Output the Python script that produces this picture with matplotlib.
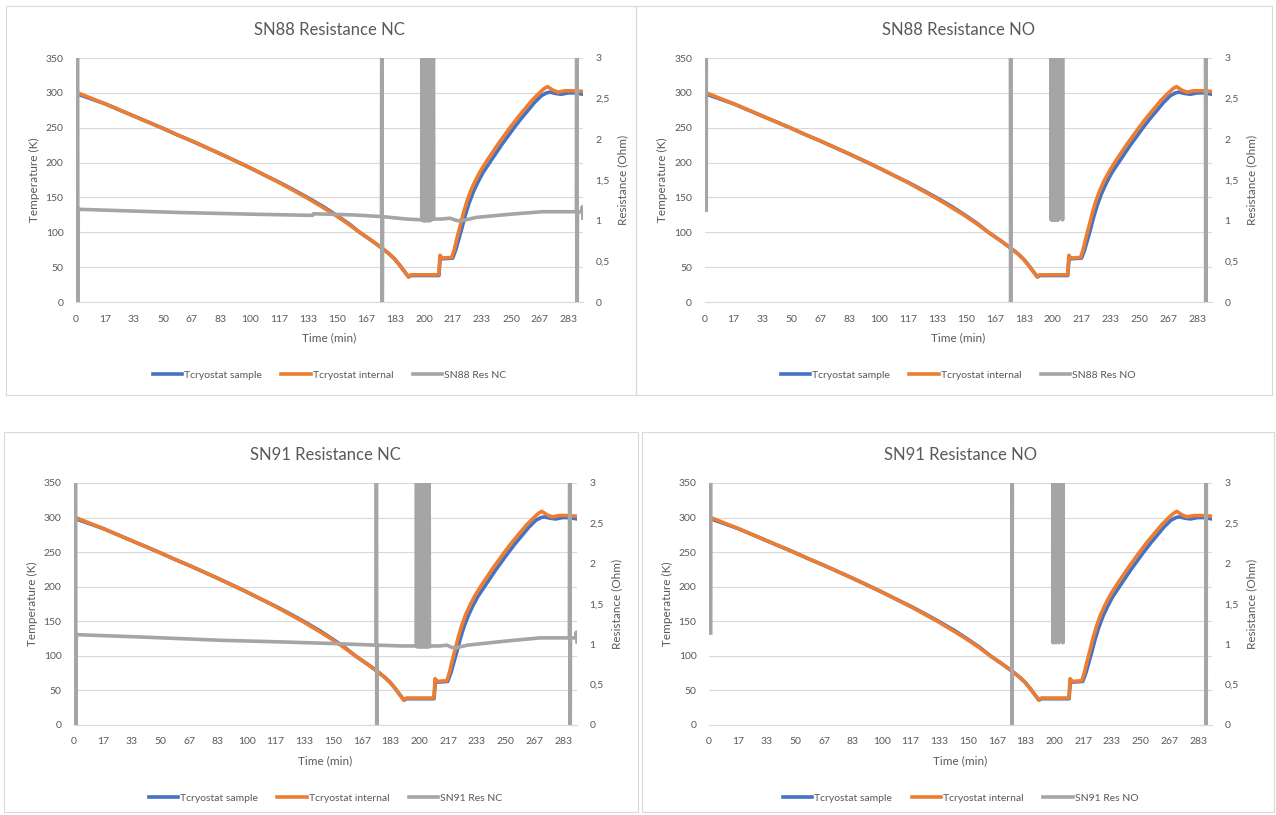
"""
Four cryostat runs: temperature (left axis) and contact resistance (right axis)
for SN88 / SN91, NC and NO contacts. Writes out.png.
"""
import matplotlib
matplotlib.use("Agg")
import matplotlib.pyplot as plt
from matplotlib.lines import Line2D
from matplotlib.patches import Rectangle

W, H = 1276, 815
BLUE, ORANGE, GRAY = "#4472C4", "#ED7D31", "#A5A5A5"
TXT, GRID = "#595959", "#D9D9D9"
LW = 2.6

plt.rcParams.update({"font.family": ["Lato", "DejaVu Sans"], "text.color": TXT,
                     "xtick.color": TXT, "ytick.color": TXT})

# ---- temperatures (same run for all four charts) ----
time_internal = [0, 8, 17, 25, 33, 42, 50, 58, 67, 75, 83, 92, 100, 108, 117, 125, 133, 142,
                 150, 157, 163, 170, 176, 180, 183, 186, 189, 191, 192.5, 200, 208.5, 209.2,
                 210.2, 216, 217.5, 219, 220.7, 222.5, 224.5, 226.8, 229.5, 232.5, 236, 239.5,
                 243, 246.5, 250, 254, 258, 262, 266, 269, 271, 274, 277, 281, 285, 291.4]
temp_internal = [301, 293, 284, 275.5, 267, 257.5, 249, 240, 230.5, 221.5, 212.5, 202, 192.5,
                 182.5, 171, 160, 149, 135.5, 123, 111, 100, 88, 77, 69, 62, 53, 43, 36, 39,
                 39, 39, 67, 63, 64, 76, 92, 108, 126, 143, 159, 174, 188, 202, 215,
                 228, 240, 252, 265, 277, 289, 299, 306, 309, 304, 301, 303, 303, 302]
time_sample = [0, 8, 17, 25, 33, 42, 50, 58, 67, 75, 83, 92, 100, 108, 117, 125, 133, 142,
               150, 157, 163, 170, 176, 180, 183, 186, 189, 191.2, 192.7, 200, 208.6, 209.4,
               210.4, 216.5, 218.3, 220, 221.8, 223.7, 225.8, 228.2, 231, 234, 237.5, 241,
               244.5, 248, 251.5, 255.5, 259.5, 263.5, 267.5, 270.5, 272.5, 276, 279, 283, 287,
               291.4]
temp_sample = [299, 292, 284, 275.5, 267, 257.5, 249, 240, 230.5, 221.5, 212.5, 202, 192.5,
               182.5, 171.5, 161, 150, 137, 124, 112, 100, 88, 77, 69, 62, 53, 43, 36, 38,
               38, 38, 66, 62, 63, 75, 90, 106, 124, 141, 157, 172, 186, 199, 212,
               225, 237, 249, 262, 274, 286, 296, 300, 301, 299, 298, 300, 300, 298]

# ---- resistances (values beyond 0..3 Ohm run off the chart) ----
time_sn88_nc = [0.9, 1.1, 1.3, 30, 60, 100, 136, 136.5, 160, 175.6, 175.8, 176.0, 176.2, 190,
                198.7, 199.0, 199.3, 199.6, 199.9, 200.2, 200.5, 200.8, 201.1, 201.4, 201.7,
                202.0, 202.3, 202.6, 202.9, 203.2, 203.5, 205.2, 205.4, 205.6,
                210, 215, 219, 222, 230, 250, 268, 287.6, 287.8, 288.0, 288.2,
                290.8, 291.0, 291.4]
res_sn88_nc = [5, -1, 1.14, 1.12, 1.10, 1.08, 1.065, 1.085, 1.07, 1.05, 5, -1, 1.05, 1.02,
               1.01, 5, 1.0, 5, 1.0, 5, 1.0, 5, 1.0, 5, 1.0,
               5, 1.0, 5, 1.0, 5, 1.0, 1.02, 5, 1.02,
               1.02, 1.03, 1.0, 1.0, 1.04, 1.08, 1.11, 1.11, 5, -1, 1.11,
               1.11, 1.17, 1.03]

time_sn88_no = [1.0, 1.1, 175.6, 175.8, 176.0, 198.9, 199.1, 199.4, 199.7, 200.0, 200.3,
                200.6, 200.9, 201.2, 201.5, 201.8, 202.1, 202.4, 202.7, 203.0, 203.3,
                205.4, 205.6, 205.8, 287.6, 287.8, 288.0, 291.4]
res_sn88_no = [1.13, 5, 5, -1, 5, 5, 1.01, 5, 1.01, 5, 1.01,
               5, 1.01, 5, 1.01, 5, 1.01, 5, 1.01, 5, 1.01,
               5, 1.01, 5, 5, -1, 5, 5]

time_sn91_nc = [0.9, 1.1, 1.3, 40, 85, 120, 150, 175.0, 175.2, 175.4, 175.6, 190, 198.2,
                198.4, 198.7, 199.0, 199.3, 199.6, 199.9, 200.2, 200.5, 200.8, 201.1, 201.4,
                201.7, 202.0, 202.3, 202.6, 202.9, 203.2, 203.5, 203.8, 204.1, 204.4, 204.7,
                205.0, 205.3, 205.6, 205.9, 206.2,
                212, 216, 219, 222, 228, 250, 270, 287.0, 287.2, 287.4, 287.6,
                290.8, 291.0, 291.4]
res_sn91_nc = [5, -1, 1.12, 1.09, 1.05, 1.03, 1.01, 0.99, 5, -1, 0.99, 0.98, 0.98,
               5, 0.97, 5, 0.97, 5, 0.97, 5, 0.97, 5, 0.97, 5,
               0.97, 5, 0.97, 5, 0.97, 5, 0.97, 5, 0.97, 5, 0.97,
               5, 0.97, 5, 0.97, 0.98,
               0.98, 0.99, 0.96, 0.96, 0.99, 1.04, 1.08, 1.08, 5, -1, 1.08,
               1.08, 1.15, 1.03]

time_sn91_no = [1.0, 1.1, 175.4, 175.6, 175.8, 199.1, 199.3, 199.5, 200.8, 201.0, 201.2,
                202.6, 202.8, 203.0, 204.9, 205.1, 205.3, 287.8, 288.0, 288.2, 291.4]
res_sn91_no = [1.14, 5, 5, -1, 5, 5, 1.02, 5, 5, 1.02, 5,
               5, 1.02, 5, 5, 1.02, 5, 5, -1, 5, 5]

xtick_pos = [0, 16.67, 33.33, 50, 66.67, 83.33, 100, 116.67, 133.33, 150, 166.67, 183.33,
             200, 216.67, 233.33, 250, 266.67, 283.33]
xtick_labels = ["0", "17", "33", "50", "67", "83", "100", "117", "133", "150", "167", "183",
                "200", "217", "233", "250", "267", "283"]
temp_ticks = [0, 50, 100, 150, 200, 250, 300, 350]
res_ticks = [0, 0.5, 1, 1.5, 2, 2.5, 3]
res_tick_labels = ["0", "0,5", "1", "1,5", "2", "2,5", "3"]

# (title, series name, times, values, border box px, plot box px)
PANELS = [
    ("SN88 Resistance NC", "SN88 Res NC", time_sn88_nc, res_sn88_nc, (6, 6, 636, 395), (76, 58, 583, 302)),
    ("SN88 Resistance NO", "SN88 Res NO", time_sn88_no, res_sn88_no, (636, 6, 1272, 395), (704.5, 58, 1212, 302)),
    ("SN91 Resistance NC", "SN91 Res NC", time_sn91_nc, res_sn91_nc, (4, 432, 638, 812), (74, 483, 577, 725)),
    ("SN91 Resistance NO", "SN91 Res NO", time_sn91_no, res_sn91_no, (642, 432, 1274, 812), (709, 483, 1212, 725)),
]


def fx(x):
    return x / W


def fy(y):
    return 1 - y / H


def panel(fig, title, name, t_res, r_res, border, box):
    bx0, by0, bx1, by1 = border
    fig.patches.append(Rectangle((fx(bx0), fy(by1)), (bx1 - bx0) / W, (by1 - by0) / H,
                                 transform=fig.transFigure, fill=False, ec=GRID, lw=0.8))
    x0, y0, x1, y1 = box
    ax = fig.add_axes([fx(x0), fy(y1), (x1 - x0) / W, (y1 - y0) / H])
    ax.plot(time_sample, temp_sample, color=BLUE, lw=LW, solid_joinstyle="round")
    ax.plot(time_internal, temp_internal, color=ORANGE, lw=LW, solid_joinstyle="round")
    ax.set_xlim(0, 291.4); ax.set_ylim(0, 350)
    ax.set_yticks(temp_ticks)
    ax.set_xticks(xtick_pos); ax.set_xticklabels(xtick_labels)
    ax.tick_params(length=0, labelsize=7.5)
    ax.tick_params(axis="y", pad=9); ax.tick_params(axis="x", pad=9)
    ax.yaxis.grid(True, color=GRID, lw=0.8)
    for s in ("top", "right", "left"):
        ax.spines[s].set_visible(False)
    ax.spines["bottom"].set_color(GRID); ax.spines["bottom"].set_linewidth(0.8)

    ax2 = ax.twinx()
    ax2.plot(t_res, r_res, color=GRAY, lw=LW)
    ax2.set_ylim(0, 3)
    ax2.set_yticks(res_ticks); ax2.set_yticklabels(res_tick_labels)
    ax2.tick_params(length=0, labelsize=7.5, pad=9)
    for s in ax2.spines.values():
        s.set_visible(False)

    cx = (x0 + x1) / 2
    fig.text(fx(cx), fy(y0 - 28), title, ha="center", va="center", fontsize=12)
    fig.text(fx(cx), fy(y1 + 36), "Time (min)", ha="center", va="center", fontsize=8.5)
    fig.text(fx(x0 - 42), fy((y0 + y1) / 2), "Temperature (K)", rotation=90,
             ha="center", va="center", fontsize=8.5)
    fig.text(fx(x1 + 40), fy((y0 + y1) / 2), "Resistance (Ohm)", rotation=90,
             ha="center", va="center", fontsize=8.5)
    handles = [Line2D([], [], color=BLUE, lw=LW), Line2D([], [], color=ORANGE, lw=LW),
               Line2D([], [], color=GRAY, lw=LW)]
    fig.legend(handles, ["Tcryostat sample", "Tcryostat internal", name], ncol=3,
               loc="center", bbox_to_anchor=(fx(cx), fy(y1 + 73)), frameon=False,
               fontsize=7.5, handlelength=2.8, handletextpad=0.2, columnspacing=1.9)


def main():
    fig = plt.figure(figsize=(W / 100, H / 100), dpi=100)
    for p in PANELS:
        panel(fig, *p)
    fig.savefig("out.png", dpi=100)
    plt.close(fig)


if __name__ == "__main__":
    main()
